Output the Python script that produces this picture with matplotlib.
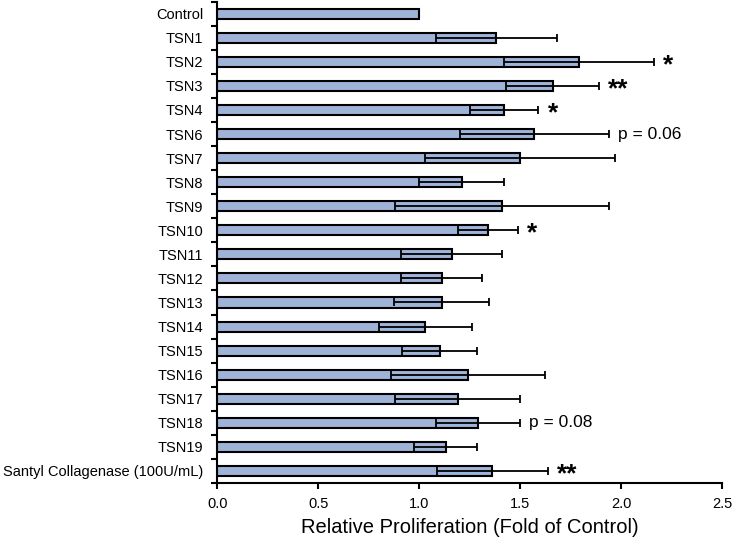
import matplotlib
matplotlib.use("Agg")
import matplotlib.pyplot as plt
import matplotlib.transforms as mtransforms
import numpy as np

plt.rcParams['font.family'] = ['Liberation Sans', 'DejaVu Sans']

categories = ["Control", "TSN1", "TSN2", "TSN3", "TSN4", "TSN6", "TSN7", "TSN8",
              "TSN9", "TSN10", "TSN11", "TSN12", "TSN13", "TSN14", "TSN15",
              "TSN16", "TSN17", "TSN18", "TSN19", "Santyl Collagenase (100U/mL)"]
values = [1.00, 1.38, 1.79, 1.66, 1.42, 1.57, 1.50, 1.21, 1.41, 1.34,
          1.16, 1.11, 1.11, 1.03, 1.10, 1.24, 1.19, 1.29, 1.13, 1.36]
errors = [0.0, 0.30, 0.37, 0.23, 0.17, 0.37, 0.47, 0.21, 0.53, 0.15,
          0.25, 0.20, 0.235, 0.23, 0.185, 0.38, 0.31, 0.21, 0.157, 0.275]
annotations = {"TSN2": "*", "TSN3": "**", "TSN4": "*", "TSN6": "p = 0.06",
               "TSN10": "*", "TSN18": "p = 0.08",
               "Santyl Collagenase (100U/mL)": "**"}
xticks = [0.0, 0.5, 1.0, 1.5, 2.0, 2.5]

fig = plt.figure(figsize=(7.37, 5.51), dpi=100)
ax = fig.add_axes([0.295, 0.1234, 0.685, 0.8736])

y = np.arange(len(categories))
ax.barh(y, values, height=0.42, color='#9fb3d9', edgecolor='black',
        linewidth=1.5, zorder=2)
err = np.array(errors)
mask = err > 0
ax.errorbar(np.array(values)[mask], y[mask], xerr=err[mask], fmt='none',
            ecolor='black', elinewidth=1.3, capsize=3, capthick=1.3, zorder=3)

for i, cat in enumerate(categories):
    if cat in annotations:
        txt = annotations[cat]
        xpos = values[i] + errors[i] + 0.045
        if txt.startswith('p'):
            ax.text(xpos, i, txt, ha='left', va='center', fontsize=12.5)
        else:
            off = mtransforms.offset_copy(ax.transData, fig=fig, x=0, y=-2.5, units='points')
            ax.text(xpos, i, txt, ha='left', va='center', fontsize=19,
                    fontweight='bold', transform=off)

ax.set_ylim(len(categories) - 0.5, -0.5)
ax.set_xlim(0, 2.5)
ax.set_yticks(y)
ax.set_yticklabels(categories, fontsize=10.5)
ax.set_yticks(np.arange(-0.5, len(categories), 1.0), minor=True)
ax.tick_params(axis='y', which='major', length=0, pad=10)
ax.tick_params(axis='y', which='minor', length=4, width=1.5, direction='out')
ax.set_xticks(xticks)
ax.set_xticklabels([f"{t:.1f}" for t in xticks], fontsize=10.5)
ax.tick_params(axis='x', which='major', length=4, width=1.5, direction='out', pad=6)
ax.set_xlabel("Relative Proliferation (Fold of Control)", fontsize=14.5, labelpad=5)

for s in ['top', 'right']:
    ax.spines[s].set_visible(False)
for s in ['left', 'bottom']:
    ax.spines[s].set_linewidth(1.5)

fig.savefig("out.png", dpi=100)
